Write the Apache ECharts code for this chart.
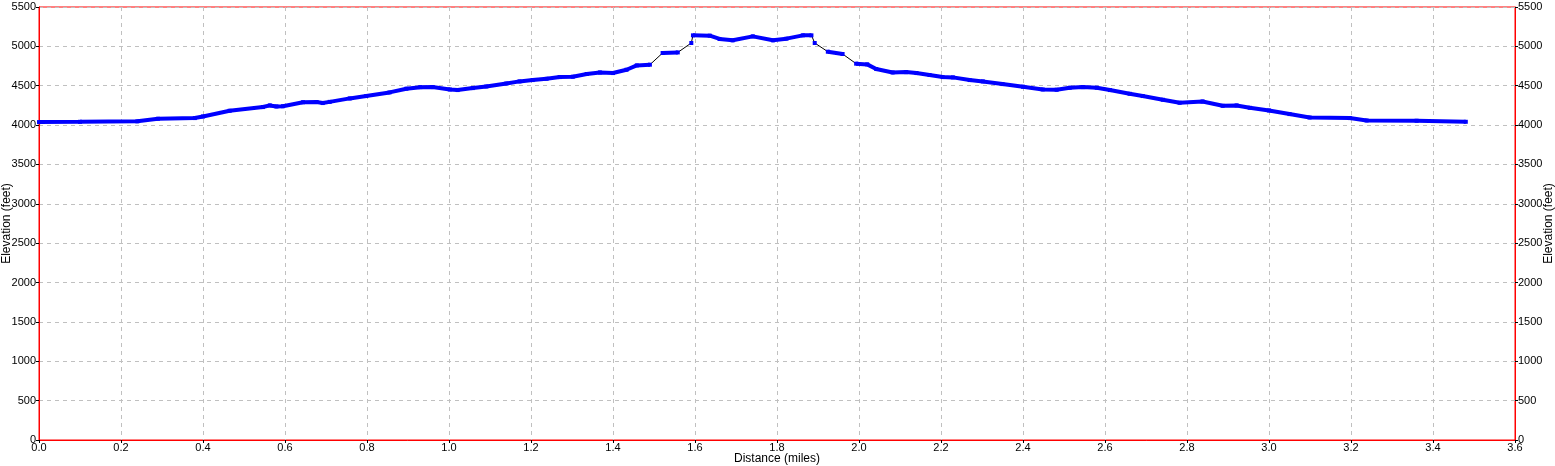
<!DOCTYPE html>
<html>
<head>
<meta charset="utf-8">
<script src="https://cdn.jsdelivr.net/npm/echarts@6/dist/echarts.min.js"></script>
<style>
  html, body { margin: 0; padding: 0; background: #fff; }
  #container { width: 1555px; height: 466px; }
</style>
</head>
<body>
<div id="container"></div>
<script>
// distance along the trail (miles) and elevation (feet)
const dist = [0.00, 0.10, 0.24, 0.29, 0.38, 0.40, 0.465, 0.546, 0.563, 0.579, 0.595, 0.644, 0.677, 0.692, 0.709,
  0.758, 0.798, 0.855, 0.896, 0.93, 0.96, 1.002, 1.021, 1.058, 1.091, 1.14, 1.172, 1.204, 1.238, 1.27, 1.302,
  1.336, 1.368, 1.40, 1.433, 1.458, 1.49, 1.521, 1.558, 1.591, 1.595, 1.636, 1.66, 1.692, 1.741, 1.79, 1.823,
  1.863, 1.884, 1.892, 1.924, 1.96, 1.993, 2.02, 2.042, 2.082, 2.115, 2.14, 2.172, 2.204, 2.229, 2.27, 2.302,
  2.35, 2.40, 2.448, 2.482, 2.514, 2.546, 2.58, 2.612, 2.66, 2.692, 2.741, 2.782, 2.838, 2.887, 2.921, 2.953,
  3.00, 3.05, 3.099, 3.197, 3.238, 3.36, 3.48];
const elev = [4038, 4042, 4048, 4080, 4089, 4110, 4182, 4229, 4250, 4237, 4240, 4290, 4293, 4280, 4295,
  4339, 4369, 4415, 4462, 4482, 4483, 4453, 4445, 4470, 4491, 4529, 4555, 4572, 4589, 4610, 4615,
  4649, 4669, 4661, 4703, 4758, 4767, 4916, 4923, 5043, 5140, 5136, 5094, 5077, 5127, 5077, 5098,
  5140, 5140, 5043, 4932, 4903, 4780, 4771, 4712, 4669, 4673, 4661, 4636, 4610, 4606, 4572, 4555,
  4521, 4487, 4453, 4449, 4474, 4483, 4474, 4445, 4398, 4369, 4322, 4284, 4300, 4245, 4250, 4220,
  4186, 4140, 4097, 4089, 4059, 4055, 4042];
// indices after which the track has no samples (drawn as a thin line only)
const sparseAfter = [36, 38, 39, 48, 49, 51];

const yTicks = [0, 5500, 500];
const xTicks = [0, 3.6, 0.2];

const thinData = dist.map((d, i) => [d, elev[i]]);
const blueData = [];
dist.forEach((d, i) => {
  blueData.push([d, elev[i]]);
  if (sparseAfter.includes(i)) blueData.push([(d + dist[i + 1]) / 2, null]);
});

const font = 'Liberation Sans';
const gridLine = { show: true, lineStyle: { color: '#c0c0c0', type: [4, 4], width: 1 } };
const yBase = {
  type: 'value', min: yTicks[0], max: yTicks[1], interval: yTicks[2],
  name: 'Elevation (feet)', nameLocation: 'middle', nameRotate: 90, nameGap: 28, nameMoveOverlap: false,
  nameTextStyle: { color: '#000', fontFamily: font, fontSize: 12 },
  axisLine: { show: true, lineStyle: { color: '#ff0000' } },
  axisTick: { show: true, length: 3, lineStyle: { color: '#000' } },
  axisLabel: { color: '#000', fontFamily: font, fontSize: 11, margin: 3, formatter: v => String(v) }
};

const chart = echarts.init(document.getElementById('container'));
chart.setOption({
  animation: false,
  backgroundColor: '#fff',
  grid: {
    left: 39, right: 40, top: 7, bottom: 26, containLabel: false, outerBoundsMode: 'none',
    show: true, borderColor: '#ff0000', borderWidth: 1
  },
  xAxis: {
    type: 'value', min: xTicks[0], max: xTicks[1], interval: xTicks[2],
    name: 'Distance (miles)', nameLocation: 'middle', nameGap: 13, nameMoveOverlap: false,
    nameTextStyle: { color: '#000', fontFamily: font, fontSize: 12 },
    axisLine: { show: true, onZero: false, lineStyle: { color: '#ff0000' } },
    axisTick: { show: true, length: 3, lineStyle: { color: '#000' } },
    axisLabel: { color: '#000', fontFamily: font, fontSize: 11, margin: 2, formatter: v => v.toFixed(1) },
    splitLine: gridLine
  },
  yAxis: [
    Object.assign({}, yBase, { position: 'left', nameGap: 26, splitLine: gridLine }),
    Object.assign({}, yBase, { position: 'right', splitLine: { show: false } })
  ],
  series: [
    {
      type: 'line', data: thinData, showSymbol: false, silent: true,
      lineStyle: { color: '#000', width: 1 }
    },
    {
      type: 'line', data: blueData, connectNulls: false, silent: true,
      symbol: 'rect', symbolSize: 4, showSymbol: true, showAllSymbol: true,
      itemStyle: { color: '#0000ff' },
      lineStyle: { color: '#0000ff', width: 4 }
    }
  ]
});
</script>
</body>
</html>
